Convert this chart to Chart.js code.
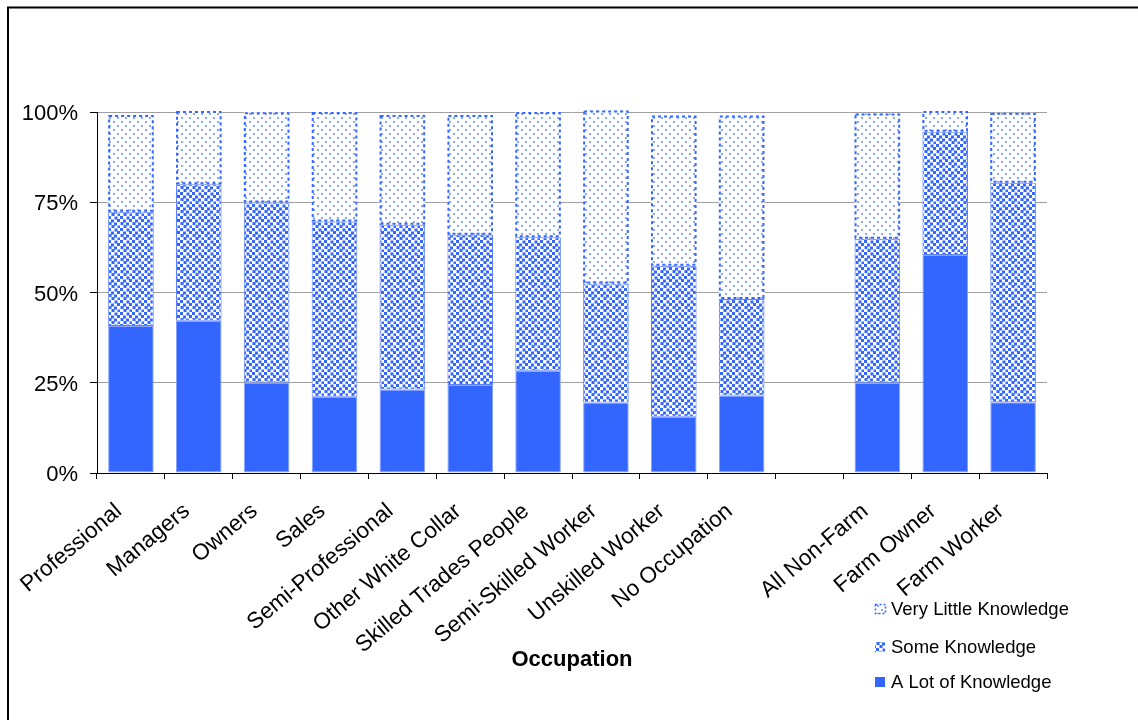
<!DOCTYPE html>
<html>
<head>
<meta charset="utf-8">
<script src="https://cdn.jsdelivr.net/npm/chart.js@4"></script>
<style>
  body { margin: 0; background: #fff; }
</style>
</head>
<body>
<canvas id="occChart" width="1138" height="720"></canvas>
<script>
let occupations = ["Professional", "Managers", "Owners", "Sales", "Semi-Professional", "Other White Collar",
  "Skilled Trades People", "Semi-Skilled Worker", "Unskilled Worker", "No Occupation", "",
  "All Non-Farm", "Farm Owner", "Farm Worker"];
let aLot = [40.7, 42.2, 25.1, 21.1, 23.1, 24.4, 28.3, 19.5, 15.6, 21.5, null, 25.0, 60.4, 19.6];
let some = [31.7, 37.8, 49.8, 48.6, 45.7, 41.6, 37.0, 33.0, 41.8, 26.7, null, 39.9, 34.1, 60.8];
let veryLittle = [26.8, 20.3, 25.0, 30.3, 30.4, 33.2, 34.7, 47.9, 41.6, 50.8, null, 34.7, 5.8, 19.4];
let yTicks = [0, 25, 50, 75, 100];

const blue = "#3366FF";
const font = "'Liberation Sans', Arial, sans-serif";

function makePattern(size, draw) {
  let c = document.createElement("canvas");
  c.width = size;
  c.height = size;
  let g = c.getContext("2d");
  g.fillStyle = "#fff";
  g.fillRect(0, 0, size, size);
  draw(g);
  return g.createPattern(c, "repeat");
}

// confetti squares for "Some Knowledge"
let somePattern = makePattern(12, function (g) {
  g.fillStyle = blue;
  let spots = [[0, 0], [6.5, 0.5], [3, 3.5], [9, 3], [0.5, 6], [6, 6.5], [3.5, 9], [9.5, 9.5]];
  spots.forEach(function (s) { g.fillRect(s[0], s[1], 3, 3); });
});
// sparse light dots for "Very Little Knowledge"
let littlePattern = makePattern(8, function (g) {
  g.fillStyle = "#8aa5ff";
  g.fillRect(1, 1, 2, 2);
  g.fillRect(5, 5, 2, 2);
});

// frame, dashed outline for the "very little" segments, legend
const extras = {
  id: "extras",
  beforeDraw(chart) {
    let ctx = chart.ctx;
    ctx.save();
    ctx.strokeStyle = "#000";
    ctx.lineWidth = 2;
    ctx.strokeRect(8, 7.5, 1200, 800);
    ctx.restore();
  },
  afterDatasetsDraw(chart) {
    let ctx = chart.ctx;
    let meta = chart.getDatasetMeta(2);
    ctx.save();
    ctx.strokeStyle = blue;
    ctx.lineWidth = 2;
    ctx.setLineDash([3, 3]);
    meta.data.forEach(function (bar, i) {
      if (veryLittle[i] == null) return;
      let p = bar.getProps(["x", "y", "base", "width"], true);
      ctx.strokeRect(p.x - p.width / 2 + 1, p.y + 1, p.width - 2, p.base - p.y - 2);
    });
    ctx.restore();
  },
  afterDraw(chart) {
    let ctx = chart.ctx;
    let items = [
      { text: "Very Little Knowledge", y: 609, ds: 2 },
      { text: "Some Knowledge", y: 647, ds: 1 },
      { text: "A Lot of Knowledge", y: 682, ds: 0 },
    ];
    ctx.save();
    ctx.font = "18.5px " + font;
    ctx.textBaseline = "middle";
    items.forEach(function (it) {
      let ds = chart.data.datasets[it.ds];
      ctx.fillStyle = ds.backgroundColor;
      ctx.fillRect(875, it.y - 5, 10, 10);
      if (it.ds == 2) {
        ctx.strokeStyle = blue;
        ctx.lineWidth = 1.5;
        ctx.setLineDash([2, 2]);
        ctx.strokeRect(875.5, it.y - 4.5, 10, 9);
        ctx.setLineDash([]);
      }
      ctx.fillStyle = "#000";
      ctx.fillText(it.text, 891, it.y + 1);
    });
    ctx.restore();
  },
};

new Chart(document.getElementById("occChart"), {
  type: "bar",
  data: {
    labels: occupations,
    datasets: [
      { label: "A Lot of Knowledge", data: aLot, backgroundColor: blue, borderColor: "#8aa3ff", borderWidth: 1, borderSkipped: false },
      { label: "Some Knowledge", data: some, backgroundColor: somePattern, borderColor: "#5c80ff", borderWidth: 1, borderSkipped: false },
      { label: "Very Little Knowledge", data: veryLittle, backgroundColor: littlePattern, borderWidth: 0 },
    ],
  },
  options: {
    responsive: false,
    animation: false,
    layout: { padding: { top: 112, right: 91, left: 0, bottom: 0 } },
    datasets: { bar: { barPercentage: 0.672, categoryPercentage: 1, clip: false } },
    plugins: { legend: { display: false }, tooltip: { enabled: false } },
    scales: {
      x: {
        stacked: true,
        afterFit(scale) { scale.height = 247; },
        border: { color: "#000", width: 1 },
        grid: { drawOnChartArea: false, tickLength: 6, tickColor: "#000", offset: true },
        ticks: {
          autoSkip: false, minRotation: 40, maxRotation: 40, padding: 19, labelOffset: -12,
          color: "#000", font: { family: font, size: 22.5 },
        },
        title: {
          display: true, text: "Occupation", color: "#000",
          font: { family: font, size: 22, weight: "bold" },
          padding: { top: 0, bottom: 47 },
        },
      },
      y: {
        stacked: true,
        min: 0,
        max: 100,
        afterFit(scale) { scale.width = 97; },
        afterBuildTicks(scale) { scale.ticks = yTicks.map(v => ({ value: v })); },
        border: { color: "#000", width: 1 },
        grid: { color: "#a0a0a0", tickColor: "#000", tickLength: 7 },
        ticks: {
          padding: 12, labelOffset: 2, color: "#000", font: { family: font, size: 22 },
          callback: v => v + "%",
        },
      },
    },
  },
  plugins: [extras],
});
</script>
</body>
</html>
